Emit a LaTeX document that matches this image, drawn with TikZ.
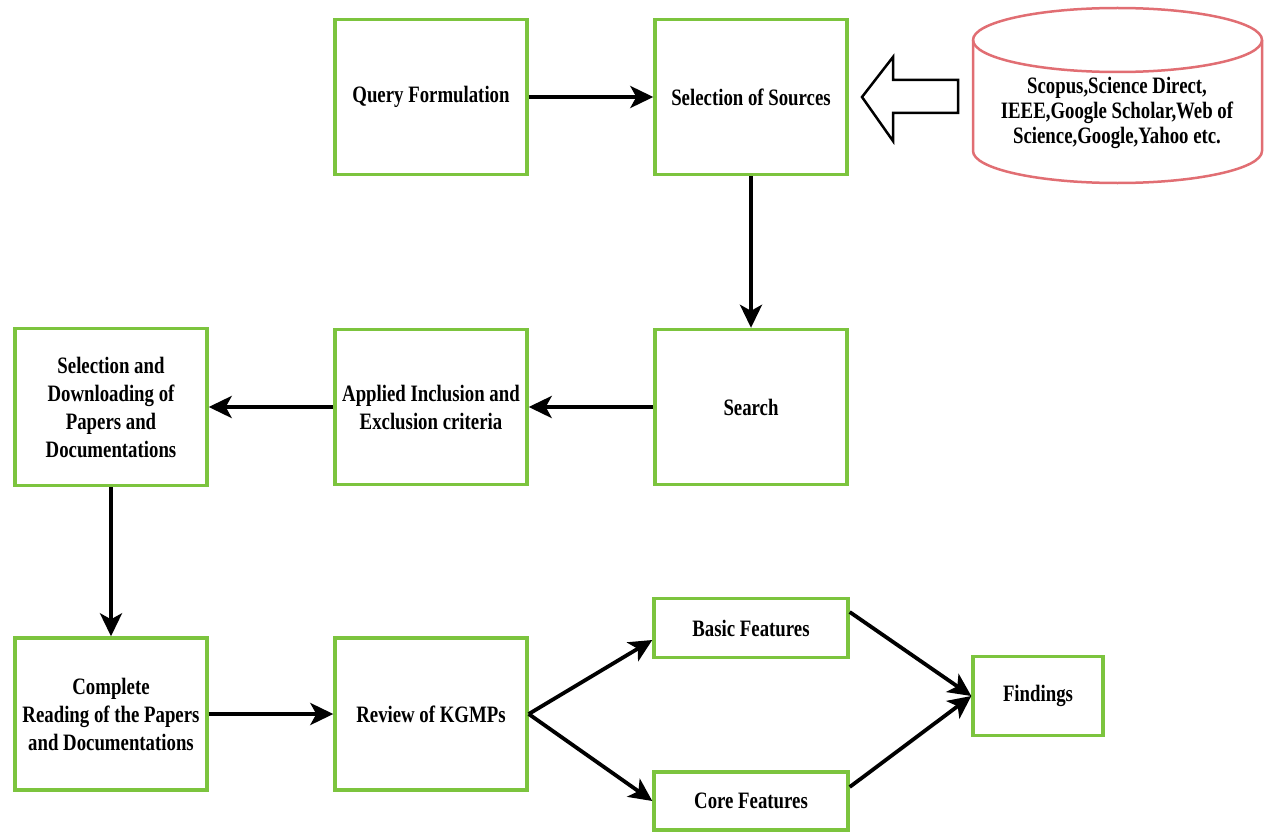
\documentclass[tikz,border=0pt]{standalone}
\usepackage{fontspec}
\setmainfont{Liberation Serif}
\newfontfamily\boxfont[FakeStretch=0.8]{Liberation Serif}
\usetikzlibrary{arrows.meta}
\definecolor{boxgreen}{RGB}{124,196,62}
\definecolor{dbred}{RGB}{225,110,115}
\begin{document}
\begin{tikzpicture}[x=1pt,y=-1pt,
  box/.style={draw=boxgreen,line width=3.4pt,fill=white,align=center,font=\boxfont\fontsize{23.5}{28}\selectfont\bfseries,inner sep=1pt},
  flow/.style={-{Stealth[length=23pt,width=22pt,inset=6pt]},line width=3.8pt,black}]
\useasboundingbox (0,0) rectangle (1265,832);
\node[box,minimum width=192pt,minimum height=155pt] (qf) at (431,97) {Query Formulation};
\node[box,minimum width=192pt,minimum height=155pt] (ss) at (751,97) {Selection of Sources};
\node[box,minimum width=192pt,minimum height=155pt] (se) at (751,407) {Search};
\node[box,minimum width=192pt,minimum height=155pt] (ai) at (431,407) {Applied Inclusion and\\Exclusion criteria};
\node[box,minimum width=192pt,minimum height=157pt] (sd) at (111,407) {Selection and\\Downloading of\\Papers and\\Documentations};
\node[box,minimum width=192pt,minimum height=152pt] (cr) at (111,714) {Complete\\Reading of the Papers\\and Documentations};
\node[box,minimum width=192pt,minimum height=152pt] (rv) at (431,714) {Review of KGMPs};
\node[box,minimum width=194pt,minimum height=59pt] (bf) at (751,628) {Basic Features};
\node[box,minimum width=194pt,minimum height=58pt] (cf) at (751,801) {Core Features};
\node[box,minimum width=130pt,minimum height=79pt] (fi) at (1038,696) {Findings};
% database cylinder
\draw[dbred,line width=2.5pt,fill=white] (973,40) -- (973,151) arc[start angle=180,end angle=360,x radius=144.5pt,y radius=32pt] -- (1262,40) arc[start angle=0,end angle=180,x radius=144.5pt,y radius=32pt] -- cycle;
\draw[dbred,line width=2.5pt] (973,40) arc[start angle=180,end angle=360,x radius=144.5pt,y radius=32pt];
\node[align=center,font=\boxfont\fontsize{23.5}{25}\selectfont\bfseries] (db) at (1117,113) {Scopus,Science Direct,\\IEEE,Google Scholar,Web of\\Science,Google,Yahoo etc.};
% hollow arrow
\draw[black,line width=2.5pt,line join=miter,fill=white] (958,80) -- (893,80) -- (893,57) -- (862,97) -- (893,141) -- (893,113) -- (958,113) -- cycle;
% connectors
\draw[flow] (qf) -- (ss);
\draw[flow] (ss) -- (se);
\draw[flow] (se) -- (ai);
\draw[flow] (ai) -- (sd);
\draw[flow] (sd) -- (cr);
\draw[flow] (cr) -- (rv);
\draw[flow] (rv.east) -- ([yshift=-12pt]bf.west);
\draw[flow] (rv.east) -- (cf.west);
\draw[flow] ([yshift=16pt]bf.east) -- (fi.west);
\draw[flow] ([yshift=14pt]cf.east) -- (fi.west);
\end{tikzpicture}
\end{document}
